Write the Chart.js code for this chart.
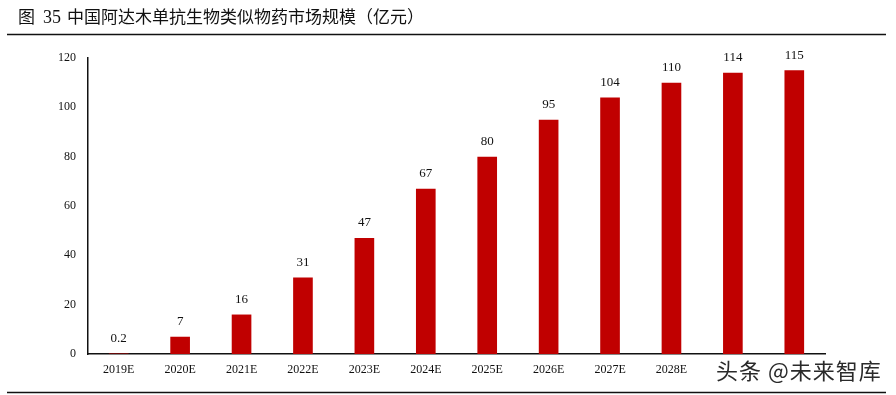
<!DOCTYPE html>
<html>
<head>
<meta charset="utf-8">
<script src="https://cdn.jsdelivr.net/npm/chart.js@4/dist/chart.umd.min.js"></script>
<style>
  html, body { margin: 0; padding: 0; background: #fff; }
  #wrap { position: relative; width: 896px; height: 395px; overflow: hidden; }
  canvas { position: absolute; left: 0; top: 0; }
  #title { position: absolute; left: 18px; top: 3px; font-family: "Noto Sans CJK SC", sans-serif; font-size: 17px; color: #111; white-space: nowrap; }
  #title .num { font-family: "Liberation Serif", serif; font-size: 18px; margin: 0 6px 0 8px; }
  #wm { position: absolute; left: 712px; top: 356px; width: 176px; height: 29px; background: #fff; font-family: "Noto Sans CJK SC", sans-serif; font-size: 22px; line-height: 26px; color: #2a2a2a; white-space: nowrap; padding-left: 4px; letter-spacing: 1px; box-sizing: border-box; }
</style>
</head>
<body>
<div id="wrap">
  <canvas id="c" width="896" height="395"></canvas>
  <div id="title">图<span class="num">35</span>中国阿达木单抗生物类似物药市场规模（亿元）</div>
  <div id="wm">头条 @未来智库</div>
</div>
<script>
const categories = ["2019E","2020E","2021E","2022E","2023E","2024E","2025E","2026E","2027E","2028E","2029E","2030E"];
const marketSize = [0.2, 7, 16, 31, 47, 67, 80, 95, 104, 110, 114, 115];
const valueLabels = ["0.2","7","16","31","47","67","80","95","104","110","114","115"];
const yTicks = [0, 20, 40, 60, 80, 100, 120];

const decor = {
  id: 'decor',
  afterDraw(chart) {
    const ctx = chart.ctx;
    ctx.save();
    const meta = chart.getDatasetMeta(0);
    ctx.font = '13px "Liberation Serif", serif';
    ctx.fillStyle = '#111';
    ctx.textAlign = 'center';
    ctx.textBaseline = 'middle';
    meta.data.forEach((bar, i) => {
      ctx.fillText(valueLabels[i], bar.x, bar.y - 15);
    });
    ctx.strokeStyle = '#111';
    ctx.lineWidth = 1.5;
    ctx.beginPath();
    ctx.moveTo(7, 34.5); ctx.lineTo(886, 34.5);
    ctx.moveTo(7, 392.5); ctx.lineTo(886, 392.5);
    ctx.stroke();
    ctx.restore();
  }
};

new Chart(document.getElementById('c'), {
  type: 'bar',
  data: {
    labels: categories,
    datasets: [{
      data: marketSize,
      backgroundColor: '#C00000',
      borderWidth: 0,
      barPercentage: 0.32,
      categoryPercentage: 1.0
    }]
  },
  options: {
    responsive: false,
    animation: false,
    devicePixelRatio: 1,
    layout: { padding: { left: 38, right: 71, top: 58, bottom: 1 } },
    plugins: { legend: { display: false }, tooltip: { enabled: false } },
    scales: {
      x: {
        grid: { display: false, drawTicks: false },
        border: { display: true, color: '#111', width: 1.5 },
        ticks: { color: '#111', font: { family: '"Liberation Serif", serif', size: 12 }, padding: 9, maxRotation: 0, autoSkip: false },
        afterFit(s) { s.height = 40; }
      },
      y: {
        min: 0, max: 120,
        afterBuildTicks(s) { s.ticks = yTicks.map(v => ({ value: v })); },
        grid: { display: false, drawTicks: false },
        border: { display: true, color: '#111', width: 1.5 },
        ticks: { color: '#111', font: { family: '"Liberation Serif", serif', size: 12 }, padding: 12 },
        afterFit(s) { s.width = 50; }
      }
    }
  },
  plugins: [decor]
});
</script>
</body>
</html>
